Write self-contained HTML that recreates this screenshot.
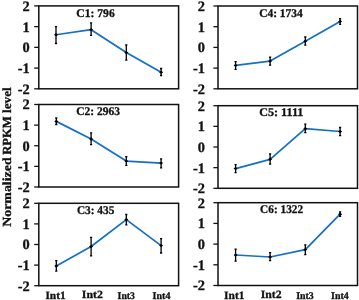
<!DOCTYPE html>
<html><head><meta charset="utf-8"><title>chart</title><style>html,body{margin:0;padding:0;background:#fff}svg{will-change:transform;transform:translateZ(0)}svg text{stroke:#111;stroke-width:.3px}</style></head><body>
<svg width="359" height="300" viewBox="0 0 359 300" style="display:block;font-family:'Liberation Serif',serif;font-weight:bold;text-rendering:geometricPrecision">
<rect width="359" height="300" fill="#fff"/>
<rect x="38.8" y="5.9" width="139.80" height="82.90" fill="none" stroke="#111" stroke-width="1.5"/>
<line x1="34.199999999999996" x2="38.8" y1="5.90" y2="5.90" stroke="#111" stroke-width="1.3"/>
<text x="29.7" y="10.80" font-size="14.4" text-anchor="end" fill="#111">2</text>
<line x1="34.199999999999996" x2="38.8" y1="26.62" y2="26.62" stroke="#111" stroke-width="1.3"/>
<text x="29.7" y="31.52" font-size="14.4" text-anchor="end" fill="#111">1</text>
<line x1="34.199999999999996" x2="38.8" y1="47.35" y2="47.35" stroke="#111" stroke-width="1.3"/>
<text x="29.7" y="52.25" font-size="14.4" text-anchor="end" fill="#111">0</text>
<line x1="34.199999999999996" x2="38.8" y1="68.08" y2="68.08" stroke="#111" stroke-width="1.3"/>
<text x="29.7" y="72.98" font-size="14.4" text-anchor="end" fill="#111">-1</text>
<line x1="34.199999999999996" x2="38.8" y1="88.80" y2="88.80" stroke="#111" stroke-width="1.3"/>
<text x="29.7" y="93.70" font-size="14.4" text-anchor="end" fill="#111">-2</text>
<polyline points="56.00,34.75 91.10,29.65 126.30,52.60 161.10,72.20" fill="none" stroke="#1470c6" stroke-width="1.75" stroke-linejoin="round"/>
<path d="M56.00 26.30V43.80M54.90 26.60h2.2M54.90 43.50h2.2" stroke="#000" stroke-width="1.3" fill="none"/>
<path d="M54.00 34.75L56.00 33.05L58.00 34.75L56.00 36.45Z" fill="#000"/>
<path d="M91.10 22.60V35.60M90.00 22.90h2.2M90.00 35.30h2.2" stroke="#000" stroke-width="1.3" fill="none"/>
<path d="M89.10 29.65L91.10 27.95L93.10 29.65L91.10 31.35Z" fill="#000"/>
<path d="M126.30 44.70V60.50M125.20 45.00h2.2M125.20 60.20h2.2" stroke="#000" stroke-width="1.3" fill="none"/>
<path d="M124.30 52.60L126.30 50.90L128.30 52.60L126.30 54.30Z" fill="#000"/>
<path d="M161.10 68.20V75.80M160.00 68.50h2.2M160.00 75.50h2.2" stroke="#000" stroke-width="1.3" fill="none"/>
<path d="M159.10 72.20L161.10 70.50L163.10 72.20L161.10 73.90Z" fill="#000"/>
<text x="76.3" y="16.9" font-size="11.8" textLength="38.4" lengthAdjust="spacingAndGlyphs" fill="#111">C1: 796</text>
<rect x="38.8" y="104.5" width="139.80" height="82.50" fill="none" stroke="#111" stroke-width="1.5"/>
<line x1="34.199999999999996" x2="38.8" y1="104.50" y2="104.50" stroke="#111" stroke-width="1.3"/>
<text x="29.7" y="109.40" font-size="14.4" text-anchor="end" fill="#111">2</text>
<line x1="34.199999999999996" x2="38.8" y1="125.12" y2="125.12" stroke="#111" stroke-width="1.3"/>
<text x="29.7" y="130.03" font-size="14.4" text-anchor="end" fill="#111">1</text>
<line x1="34.199999999999996" x2="38.8" y1="145.75" y2="145.75" stroke="#111" stroke-width="1.3"/>
<text x="29.7" y="150.65" font-size="14.4" text-anchor="end" fill="#111">0</text>
<line x1="34.199999999999996" x2="38.8" y1="166.38" y2="166.38" stroke="#111" stroke-width="1.3"/>
<text x="29.7" y="171.28" font-size="14.4" text-anchor="end" fill="#111">-1</text>
<line x1="34.199999999999996" x2="38.8" y1="187.00" y2="187.00" stroke="#111" stroke-width="1.3"/>
<text x="29.7" y="191.90" font-size="14.4" text-anchor="end" fill="#111">-2</text>
<polyline points="56.30,121.40 91.10,139.00 126.30,161.10 161.10,163.10" fill="none" stroke="#1470c6" stroke-width="1.75" stroke-linejoin="round"/>
<path d="M56.30 117.70V124.80M55.20 118.00h2.2M55.20 124.50h2.2" stroke="#000" stroke-width="1.3" fill="none"/>
<path d="M54.30 121.40L56.30 119.70L58.30 121.40L56.30 123.10Z" fill="#000"/>
<path d="M91.10 132.50V144.90M90.00 132.80h2.2M90.00 144.60h2.2" stroke="#000" stroke-width="1.3" fill="none"/>
<path d="M89.10 139.00L91.10 137.30L93.10 139.00L91.10 140.70Z" fill="#000"/>
<path d="M126.30 156.30V165.60M125.20 156.60h2.2M125.20 165.30h2.2" stroke="#000" stroke-width="1.3" fill="none"/>
<path d="M124.30 161.10L126.30 159.40L128.30 161.10L126.30 162.80Z" fill="#000"/>
<path d="M161.10 158.50V168.20M160.00 158.80h2.2M160.00 167.90h2.2" stroke="#000" stroke-width="1.3" fill="none"/>
<path d="M159.10 163.10L161.10 161.40L163.10 163.10L161.10 164.80Z" fill="#000"/>
<text x="76.3" y="115.3" font-size="11.8" textLength="43.8" lengthAdjust="spacingAndGlyphs" fill="#111">C2: 2963</text>
<rect x="38.8" y="203.3" width="139.80" height="82.40" fill="none" stroke="#111" stroke-width="1.5"/>
<line x1="34.199999999999996" x2="38.8" y1="203.30" y2="203.30" stroke="#111" stroke-width="1.3"/>
<text x="29.7" y="208.20" font-size="14.4" text-anchor="end" fill="#111">2</text>
<line x1="34.199999999999996" x2="38.8" y1="223.90" y2="223.90" stroke="#111" stroke-width="1.3"/>
<text x="29.7" y="228.80" font-size="14.4" text-anchor="end" fill="#111">1</text>
<line x1="34.199999999999996" x2="38.8" y1="244.50" y2="244.50" stroke="#111" stroke-width="1.3"/>
<text x="29.7" y="249.40" font-size="14.4" text-anchor="end" fill="#111">0</text>
<line x1="34.199999999999996" x2="38.8" y1="265.10" y2="265.10" stroke="#111" stroke-width="1.3"/>
<text x="29.7" y="270.00" font-size="14.4" text-anchor="end" fill="#111">-1</text>
<line x1="34.199999999999996" x2="38.8" y1="285.70" y2="285.70" stroke="#111" stroke-width="1.3"/>
<text x="29.7" y="290.60" font-size="14.4" text-anchor="end" fill="#111">-2</text>
<polyline points="56.30,266.00 91.10,246.50 126.30,219.60 161.10,245.60" fill="none" stroke="#1470c6" stroke-width="1.75" stroke-linejoin="round"/>
<path d="M56.30 260.40V271.40M55.20 260.70h2.2M55.20 271.10h2.2" stroke="#000" stroke-width="1.3" fill="none"/>
<path d="M54.30 266.00L56.30 264.30L58.30 266.00L56.30 267.70Z" fill="#000"/>
<path d="M91.10 237.10V256.10M90.00 237.40h2.2M90.00 255.80h2.2" stroke="#000" stroke-width="1.3" fill="none"/>
<path d="M89.10 246.50L91.10 244.80L93.10 246.50L91.10 248.20Z" fill="#000"/>
<path d="M126.30 214.20V225.20M125.20 214.50h2.2M125.20 224.90h2.2" stroke="#000" stroke-width="1.3" fill="none"/>
<path d="M124.30 219.60L126.30 217.90L128.30 219.60L126.30 221.30Z" fill="#000"/>
<path d="M161.10 238.30V253.30M160.00 238.60h2.2M160.00 253.00h2.2" stroke="#000" stroke-width="1.3" fill="none"/>
<path d="M159.10 245.60L161.10 243.90L163.10 245.60L161.10 247.30Z" fill="#000"/>
<text x="76.9" y="214.2" font-size="11.8" textLength="37.4" lengthAdjust="spacingAndGlyphs" fill="#111">C3: 435</text>
<rect x="218.0" y="6.0" width="139.50" height="82.80" fill="none" stroke="#111" stroke-width="1.5"/>
<line x1="213.4" x2="218.0" y1="6.00" y2="6.00" stroke="#111" stroke-width="1.3"/>
<text x="204.9" y="10.90" font-size="14.4" text-anchor="end" fill="#111">2</text>
<line x1="213.4" x2="218.0" y1="26.70" y2="26.70" stroke="#111" stroke-width="1.3"/>
<text x="204.9" y="31.60" font-size="14.4" text-anchor="end" fill="#111">1</text>
<line x1="213.4" x2="218.0" y1="47.40" y2="47.40" stroke="#111" stroke-width="1.3"/>
<text x="204.9" y="52.30" font-size="14.4" text-anchor="end" fill="#111">0</text>
<line x1="213.4" x2="218.0" y1="68.10" y2="68.10" stroke="#111" stroke-width="1.3"/>
<text x="204.9" y="73.00" font-size="14.4" text-anchor="end" fill="#111">-1</text>
<line x1="213.4" x2="218.0" y1="88.80" y2="88.80" stroke="#111" stroke-width="1.3"/>
<text x="204.9" y="93.70" font-size="14.4" text-anchor="end" fill="#111">-2</text>
<polyline points="235.60,65.40 270.10,61.10 305.30,41.30 340.10,21.40" fill="none" stroke="#1470c6" stroke-width="1.75" stroke-linejoin="round"/>
<path d="M235.60 61.40V69.60M234.50 61.70h2.2M234.50 69.30h2.2" stroke="#000" stroke-width="1.3" fill="none"/>
<path d="M233.60 65.40L235.60 63.70L237.60 65.40L235.60 67.10Z" fill="#000"/>
<path d="M270.10 56.90V65.40M269.00 57.20h2.2M269.00 65.10h2.2" stroke="#000" stroke-width="1.3" fill="none"/>
<path d="M268.10 61.10L270.10 59.40L272.10 61.10L270.10 62.80Z" fill="#000"/>
<path d="M305.30 36.70V45.50M304.20 37.00h2.2M304.20 45.20h2.2" stroke="#000" stroke-width="1.3" fill="none"/>
<path d="M303.30 41.30L305.30 39.60L307.30 41.30L305.30 43.00Z" fill="#000"/>
<path d="M340.10 18.30V24.60M339.00 18.60h2.2M339.00 24.30h2.2" stroke="#000" stroke-width="1.3" fill="none"/>
<path d="M338.10 21.40L340.10 19.70L342.10 21.40L340.10 23.10Z" fill="#000"/>
<text x="259.2" y="16.8" font-size="11.8" textLength="43.6" lengthAdjust="spacingAndGlyphs" fill="#111">C4: 1734</text>
<rect x="218.0" y="105.7" width="139.50" height="82.60" fill="none" stroke="#111" stroke-width="1.5"/>
<line x1="213.4" x2="218.0" y1="105.70" y2="105.70" stroke="#111" stroke-width="1.3"/>
<text x="204.9" y="110.60" font-size="14.4" text-anchor="end" fill="#111">2</text>
<line x1="213.4" x2="218.0" y1="126.35" y2="126.35" stroke="#111" stroke-width="1.3"/>
<text x="204.9" y="131.25" font-size="14.4" text-anchor="end" fill="#111">1</text>
<line x1="213.4" x2="218.0" y1="147.00" y2="147.00" stroke="#111" stroke-width="1.3"/>
<text x="204.9" y="151.90" font-size="14.4" text-anchor="end" fill="#111">0</text>
<line x1="213.4" x2="218.0" y1="167.65" y2="167.65" stroke="#111" stroke-width="1.3"/>
<text x="204.9" y="172.55" font-size="14.4" text-anchor="end" fill="#111">-1</text>
<line x1="213.4" x2="218.0" y1="188.30" y2="188.30" stroke="#111" stroke-width="1.3"/>
<text x="204.9" y="193.20" font-size="14.4" text-anchor="end" fill="#111">-2</text>
<polyline points="235.60,168.60 270.10,159.30 305.30,128.70 340.10,131.50" fill="none" stroke="#1470c6" stroke-width="1.75" stroke-linejoin="round"/>
<path d="M235.60 164.40V172.90M234.50 164.70h2.2M234.50 172.60h2.2" stroke="#000" stroke-width="1.3" fill="none"/>
<path d="M233.60 168.60L235.60 166.90L237.60 168.60L235.60 170.30Z" fill="#000"/>
<path d="M270.10 153.60V164.40M269.00 153.90h2.2M269.00 164.10h2.2" stroke="#000" stroke-width="1.3" fill="none"/>
<path d="M268.10 159.30L270.10 157.60L272.10 159.30L270.10 161.00Z" fill="#000"/>
<path d="M305.30 123.80V132.90M304.20 124.10h2.2M304.20 132.60h2.2" stroke="#000" stroke-width="1.3" fill="none"/>
<path d="M303.30 128.70L305.30 127.00L307.30 128.70L305.30 130.40Z" fill="#000"/>
<path d="M340.10 127.20V136.00M339.00 127.50h2.2M339.00 135.70h2.2" stroke="#000" stroke-width="1.3" fill="none"/>
<path d="M338.10 131.50L340.10 129.80L342.10 131.50L340.10 133.20Z" fill="#000"/>
<text x="259.2" y="115.9" font-size="11.8" textLength="44.2" lengthAdjust="spacingAndGlyphs" fill="#111">C5: 1111</text>
<rect x="218.0" y="202.7" width="139.50" height="82.80" fill="none" stroke="#111" stroke-width="1.5"/>
<line x1="213.4" x2="218.0" y1="202.70" y2="202.70" stroke="#111" stroke-width="1.3"/>
<text x="204.9" y="207.60" font-size="14.4" text-anchor="end" fill="#111">2</text>
<line x1="213.4" x2="218.0" y1="223.40" y2="223.40" stroke="#111" stroke-width="1.3"/>
<text x="204.9" y="228.30" font-size="14.4" text-anchor="end" fill="#111">1</text>
<line x1="213.4" x2="218.0" y1="244.10" y2="244.10" stroke="#111" stroke-width="1.3"/>
<text x="204.9" y="249.00" font-size="14.4" text-anchor="end" fill="#111">0</text>
<line x1="213.4" x2="218.0" y1="264.80" y2="264.80" stroke="#111" stroke-width="1.3"/>
<text x="204.9" y="269.70" font-size="14.4" text-anchor="end" fill="#111">-1</text>
<line x1="213.4" x2="218.0" y1="285.50" y2="285.50" stroke="#111" stroke-width="1.3"/>
<text x="204.9" y="290.40" font-size="14.4" text-anchor="end" fill="#111">-2</text>
<polyline points="235.60,255.00 270.10,257.00 305.30,249.60 340.10,214.20" fill="none" stroke="#1470c6" stroke-width="1.75" stroke-linejoin="round"/>
<path d="M235.60 248.80V261.50M234.50 249.10h2.2M234.50 261.20h2.2" stroke="#000" stroke-width="1.3" fill="none"/>
<path d="M233.60 255.00L235.60 253.30L237.60 255.00L235.60 256.70Z" fill="#000"/>
<path d="M270.10 252.40V260.90M269.00 252.70h2.2M269.00 260.60h2.2" stroke="#000" stroke-width="1.3" fill="none"/>
<path d="M268.10 257.00L270.10 255.30L272.10 257.00L270.10 258.70Z" fill="#000"/>
<path d="M305.30 244.50V255.00M304.20 244.80h2.2M304.20 254.70h2.2" stroke="#000" stroke-width="1.3" fill="none"/>
<path d="M303.30 249.60L305.30 247.90L307.30 249.60L305.30 251.30Z" fill="#000"/>
<path d="M340.10 211.60V216.70M339.00 211.90h2.2M339.00 216.40h2.2" stroke="#000" stroke-width="1.3" fill="none"/>
<path d="M338.10 214.20L340.10 212.50L342.10 214.20L340.10 215.90Z" fill="#000"/>
<text x="260.1" y="212.9" font-size="11.8" textLength="43.0" lengthAdjust="spacingAndGlyphs" fill="#111">C6: 1322</text>
<text x="45.4" y="299.0" font-size="11.0" textLength="20.3" lengthAdjust="spacingAndGlyphs" fill="#111">Int1</text>
<text x="81.8" y="298.0" font-size="11.0" textLength="21.0" lengthAdjust="spacingAndGlyphs" fill="#111">Int2</text>
<text x="117.6" y="298.8" font-size="10.3" textLength="17.3" lengthAdjust="spacingAndGlyphs" fill="#111">Int3</text>
<text x="152.6" y="298.8" font-size="10.3" textLength="17.8" lengthAdjust="spacingAndGlyphs" fill="#111">Int4</text>
<text x="224.1" y="299.0" font-size="11.2" textLength="20.4" lengthAdjust="spacingAndGlyphs" fill="#111">Int1</text>
<text x="260.7" y="297.7" font-size="11.2" textLength="20.9" lengthAdjust="spacingAndGlyphs" fill="#111">Int2</text>
<text x="296.2" y="298.8" font-size="10.3" textLength="17.6" lengthAdjust="spacingAndGlyphs" fill="#111">Int3</text>
<text x="331.1" y="298.8" font-size="10.3" textLength="17.7" lengthAdjust="spacingAndGlyphs" fill="#111">Int4</text>
<text transform="translate(10.7,226.8) rotate(-90)" font-size="12.4" textLength="69.4" lengthAdjust="spacingAndGlyphs" fill="#111">Normalized</text>
<text transform="translate(10.7,154.8) rotate(-90)" font-size="12.4" textLength="38.6" lengthAdjust="spacingAndGlyphs" fill="#111">RPKM</text>
<text transform="translate(10.7,113.0) rotate(-90)" font-size="12.4" textLength="25.8" lengthAdjust="spacingAndGlyphs" fill="#111">level</text>
</svg>
</body></html>
